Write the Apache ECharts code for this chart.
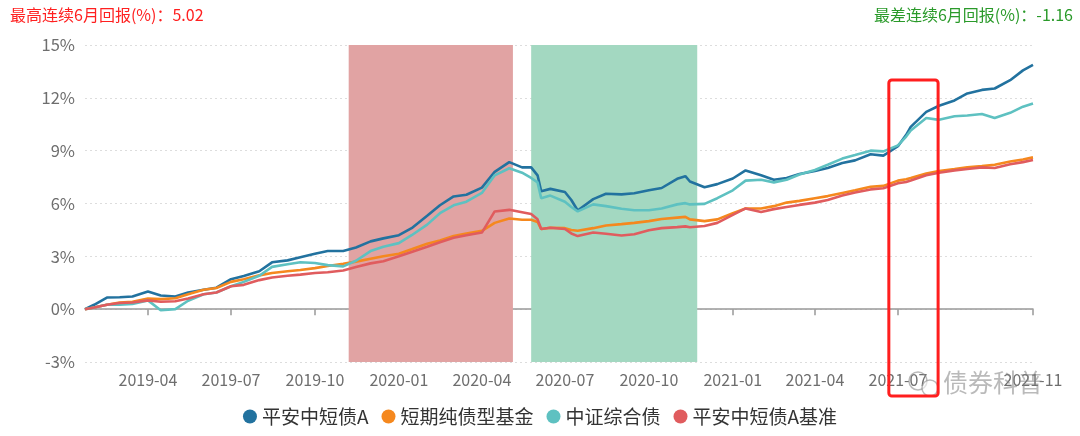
<!DOCTYPE html>
<html><head><meta charset="utf-8">
<script src="https://cdn.jsdelivr.net/npm/echarts@6/dist/echarts.min.js"></script>
<style>html,body{margin:0;padding:0;background:#fff}#c{width:1080px;height:436px}</style>
</head><body><div id="c"></div>
<script>
const dates = ['2019-01-22','2019-02-01','2019-02-15','2019-03-01','2019-03-15','2019-04-01','2019-04-15','2019-05-01','2019-05-15','2019-06-01','2019-06-15','2019-07-01','2019-07-15','2019-08-01','2019-08-15','2019-09-01','2019-09-15','2019-10-01','2019-10-15','2019-11-01','2019-11-15','2019-12-01','2019-12-15','2020-01-01','2020-01-15','2020-02-01','2020-02-15','2020-03-01','2020-03-15','2020-04-01','2020-04-15','2020-05-01','2020-05-15','2020-05-25','2020-06-01','2020-06-05','2020-06-15','2020-07-01','2020-07-08','2020-07-15','2020-08-01','2020-08-15','2020-09-01','2020-09-15','2020-10-01','2020-10-15','2020-11-01','2020-11-10','2020-11-15','2020-12-01','2020-12-15','2021-01-01','2021-01-15','2021-02-01','2021-02-15','2021-03-01','2021-03-15','2021-04-01','2021-04-15','2021-05-01','2021-05-15','2021-06-01','2021-06-15','2021-07-01','2021-07-10','2021-07-15','2021-08-01','2021-08-15','2021-09-01','2021-09-15','2021-10-01','2021-10-15','2021-11-01','2021-11-15','2021-11-26'];
const fundA = [0.0,0.25,0.66,0.68,0.72,1.0,0.78,0.72,0.95,1.1,1.22,1.7,1.88,2.15,2.66,2.77,2.95,3.15,3.3,3.3,3.5,3.85,4.02,4.2,4.6,5.3,5.9,6.4,6.5,6.9,7.8,8.35,8.05,8.05,7.6,6.7,6.83,6.65,6.2,5.6,6.25,6.55,6.52,6.58,6.75,6.88,7.4,7.55,7.25,6.92,7.1,7.42,7.88,7.6,7.35,7.45,7.68,7.85,8.02,8.3,8.45,8.8,8.72,9.25,9.9,10.35,11.2,11.55,11.85,12.25,12.45,12.53,13.0,13.56,13.87];
const shortBond = [0.0,0.1,0.25,0.38,0.42,0.6,0.57,0.62,0.85,1.1,1.2,1.55,1.7,1.92,2.05,2.15,2.22,2.33,2.45,2.58,2.7,2.86,3.0,3.15,3.4,3.72,3.9,4.15,4.3,4.45,4.9,5.15,5.08,5.08,4.95,4.55,4.62,4.6,4.5,4.45,4.6,4.75,4.83,4.9,5.0,5.12,5.2,5.24,5.1,5.0,5.1,5.45,5.72,5.72,5.85,6.05,6.15,6.3,6.42,6.6,6.75,6.95,7.0,7.3,7.38,7.45,7.7,7.85,7.95,8.05,8.12,8.2,8.38,8.5,8.62];
const csiBond = [0.0,0.1,0.25,0.26,0.3,0.5,-0.06,0.0,0.48,0.85,0.95,1.3,1.55,1.9,2.4,2.55,2.66,2.62,2.5,2.43,2.75,3.3,3.55,3.75,4.2,4.8,5.45,5.9,6.1,6.6,7.6,8.0,7.75,7.45,7.2,6.3,6.45,6.1,5.8,5.55,5.95,5.85,5.7,5.62,5.62,5.72,5.95,6.02,5.95,5.98,6.3,6.75,7.3,7.35,7.2,7.35,7.65,7.9,8.2,8.55,8.75,9.0,8.96,9.3,9.8,10.15,10.85,10.75,10.95,11.0,11.08,10.85,11.15,11.5,11.68];
const benchA = [0.0,0.1,0.25,0.35,0.38,0.5,0.42,0.45,0.6,0.85,0.95,1.3,1.38,1.65,1.8,1.9,1.96,2.05,2.1,2.2,2.4,2.6,2.72,3.0,3.25,3.55,3.8,4.05,4.2,4.35,5.55,5.64,5.5,5.4,5.1,4.55,4.62,4.55,4.3,4.15,4.35,4.28,4.18,4.25,4.48,4.6,4.66,4.7,4.65,4.72,4.9,5.35,5.72,5.52,5.68,5.8,5.92,6.05,6.2,6.45,6.63,6.8,6.87,7.15,7.22,7.3,7.6,7.75,7.88,7.96,8.05,8.02,8.23,8.35,8.47];
const seriesNames = ['平安中短债A','短期纯债型基金','中证综合债','平安中短债A基准'];
const seriesColors = ['#22729f','#f5881e','#5ec1c1','#e05c5e'];
const bestRange = ['2019-11-07','2020-05-05'];
const worstRange = ['2020-05-25','2020-11-23'];
const boxRange = ['2021-06-21','2021-08-14'];
const xLabelDates = ['2019-04-01','2019-07-01','2019-10-01','2020-01-01','2020-04-01','2020-07-01','2020-10-01','2021-01-01','2021-04-01','2021-07-01','2021-11-26'];
const yTicks = [-3,0,3,6,9,12,15];
const bestText = '最高连续6月回报(%)：5.02';
const worstText = '最差连续6月回报(%)：-1.16';
const watermark = '债券科普';

const FONT = '"Noto Sans CJK SC","Noto Sans",sans-serif';
const ts = d => new Date(d + 'T00:00:00Z').getTime();
const allVals = [fundA, shortBond, csiBond, benchA];
const series = allVals.map((vals, i) => ({
  name: seriesNames[i], type: 'line', showSymbol: false, symbol: 'circle',
  data: dates.map((d, j) => [ts(d), vals[j]]),
  lineStyle: { width: 2.6, color: seriesColors[i] },
  itemStyle: { color: seriesColors[i] },
  z: 3
}));
series[0].markArea = {
  silent: true,
  data: [
    [{ xAxis: ts(bestRange[0]), itemStyle: { color: '#e1a3a3' } }, { xAxis: ts(bestRange[1]) }],
    [{ xAxis: ts(worstRange[0]), itemStyle: { color: '#a3d8c1' } }, { xAxis: ts(worstRange[1]) }]
  ]
};
const chart = echarts.init(document.getElementById('c'), null, { renderer: 'canvas' });
chart.setOption({
  animation: false,
  textStyle: { fontFamily: FONT },
  grid: { left: 85, right: 47, top: 45, bottom: 74 },
  legend: {
    bottom: 5, left: 'center', icon: 'circle', itemWidth: 14, itemHeight: 14, itemGap: 13,
    textStyle: { fontSize: 19, color: '#333', fontFamily: FONT },
    data: seriesNames
  },
  xAxis: {
    type: 'value', min: ts(dates[0]), max: ts(dates[dates.length - 1]), scale: true,
    axisLine: { lineStyle: { color: '#999', width: 1.5 } },
    axisTick: { show: true, length: 6, lineStyle: { color: '#999', width: 1.5 }, customValues: xLabelDates.map(ts) },
    axisLabel: {
      customValues: xLabelDates.map(ts), fontSize: 16, color: '#6e6e6e', margin: 10, fontFamily: FONT,
      formatter: v => { const d = new Date(v); return d.getUTCFullYear() + '-' + String(d.getUTCMonth() + 1).padStart(2, '0'); }
    },
    splitLine: { show: false }
  },
  yAxis: {
    type: 'value', min: yTicks[0], max: yTicks[yTicks.length - 1], interval: 3,
    axisLine: { show: false }, axisTick: { show: false },
    axisLabel: { formatter: v => v + '%', fontSize: 16.5, color: '#6e6e6e', margin: 10, fontFamily: FONT },
    splitLine: { lineStyle: { color: '#ddd', type: [2, 3], width: 1 } }
  },
  series: series
});
const x0 = chart.convertToPixel({ xAxisIndex: 0 }, ts(boxRange[0]));
const x1 = chart.convertToPixel({ xAxisIndex: 0 }, ts(boxRange[1]));
chart.setOption({
  graphic: [
    { type: 'text', left: 10, top: 7, style: { text: bestText, fill: '#ff2020', font: '16px ' + FONT } },
    { type: 'text', right: 7, top: 7, style: { text: worstText, fill: '#2a9a2a', font: '16px ' + FONT } },
    { type: 'rect', z: 100, shape: { x: x0, y: 80, width: x1 - x0, height: 316, r: 3 }, style: { fill: 'none', stroke: '#ff1e1e', lineWidth: 3 } },
    { type: 'circle', z: 90, shape: { cx: 918, cy: 381, r: 9 }, style: { fill: 'none', stroke: 'rgba(140,140,140,0.6)', lineWidth: 1.5 } },
    { type: 'circle', z: 90, shape: { cx: 930, cy: 388, r: 8 }, style: { fill: 'rgba(255,255,255,0.6)', stroke: 'rgba(140,140,140,0.6)', lineWidth: 1.5 } },
    { type: 'text', z: 90, left: 943, top: 370, style: { text: watermark, fill: 'rgba(130,130,130,0.55)', font: '25px ' + FONT } }
  ]
});
</script></body></html>
